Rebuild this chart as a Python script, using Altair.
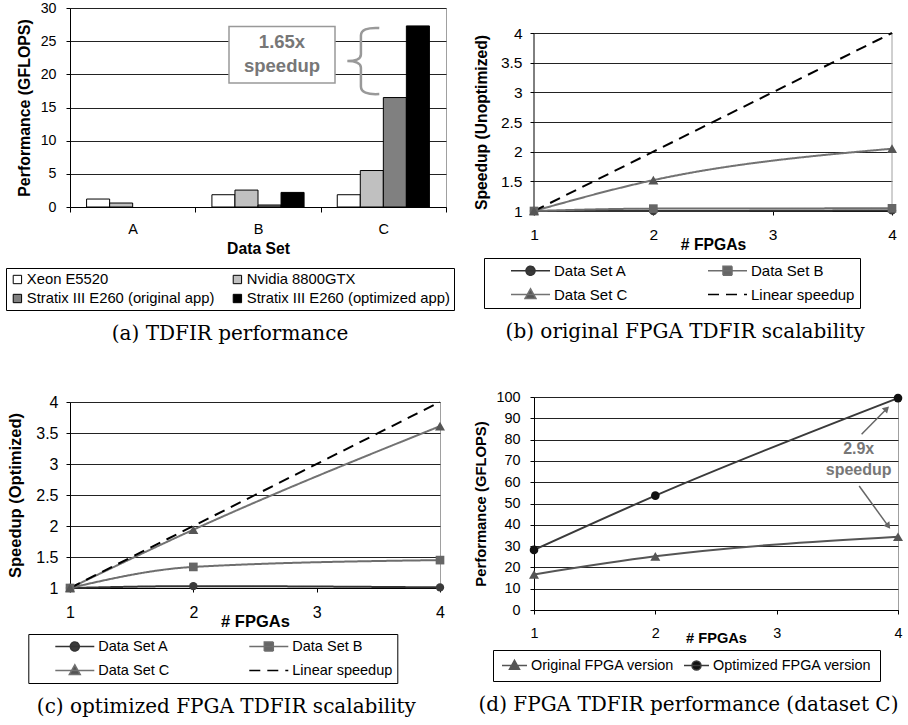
import altair as alt
import pandas as pd

SANS = "Liberation Sans"
SERIF = "DejaVu Serif"

# ---------------- chart values ----------------
data_sets = ["A", "B", "C"]
systems = ["Xeon E5520", "Nvidia 8800GTX",
           "Stratix III E260 (original app)", "Stratix III E260 (optimized app)"]
gflops_xeon = [1.2, 1.85, 1.85]
gflops_nvidia = [0.6, 2.55, 5.5]
gflops_stratix_original = [None, 0.3, 16.5]
gflops_stratix_optimized = [None, 2.2, 27.3]

fpgas = [1, 2, 4]
scal_series = ["Data Set A", "Data Set B", "Data Set C", "Linear speedup"]
unopt_set_a = [1.0, 1.0, 1.01]
unopt_set_b = [1.0, 1.04, 1.045]
unopt_set_c = [1.0, 1.52, 2.05]
linear_speedup = [1, 2, 4]
opt_set_a = [1.0, 1.03, 1.01]
opt_set_b = [1.0, 1.34, 1.45]
opt_set_c = [1.0, 1.94, 3.61]

perf_series = ["Original FPGA version", "Optimized FPGA version"]
perf_original = [16.7, 25.2, 34.4]
perf_optimized = [28.2, 53.7, 99.5]

gflops_ticks_a = [0, 5, 10, 15, 20, 25, 30]
speedup_ticks = [1, 1.5, 2, 2.5, 3, 3.5, 4]
fpga_ticks = [1, 2, 3, 4]
perf_ticks = [0, 10, 20, 30, 40, 50, 60, 70, 80, 90, 100]

captions = ["(a) TDFIR performance", "(b) original FPGA TDFIR scalability",
            "(c) optimized FPGA TDFIR scalability", "(d) FPGA TDFIR performance (dataset C)"]

# annotations (data units on the value axes)
note_a_text = ["1.65x", "speedup"]
note_a_y = [24.9, 21.2]
note_a_box_top = [27.2]
note_a_box_bottom = [18.7]
note_a_brace_y = [22.0]
note_d_text = ["2.9x", "speedup"]
note_d_x = [3.676, 3.676]
note_d_y = [75.4, 65.6]
arrow_d_x = [3.70, 3.68]
arrow_d_y = [82.5, 58.2]
arrow_d_x2 = [3.907, 3.92]
arrow_d_y2 = [94.5, 39.4]
arrow_d_angle = [45, 144]

# ---------------- styles ----------------
bar_fills = ["white", "#c0c0c0", "#808080", "black"]
scal_line_colors = ["#333333", "#6e6e6e", "#727272", "black"]
scal_marker_colors = ["#3a3a3a", "#666666", "#555555", "black"]
scal_dashes = [[1, 0], [1, 0], [1, 0], [11, 7]]
scal_shapes = ["circle", "square", "triangle-up", None]
scal_marker_sizes = [70, 75, 100, 0]
perf_line_colors = ["#555555", "#3a3a3a"]
perf_marker_colors = ["#555555", "#111111"]
perf_shapes = ["triangle-up", "circle"]
perf_marker_sizes = [100, 75]

# legend symbols: a line with the marker in the middle
LEG_BC = [
    "M-0.3,0H1M0.2,0A0.15,0.15 0 1,1 0.5,0A0.15,0.15 0 1,1 0.2,0Z",
    "M-0.3,0H1M0.2,-0.15H0.5V0.15H0.2Z",
    "M-0.3,0H1M0.35,-0.19L0.53,0.13H0.17Z",
    "M-0.3,0H1",
]
LEG_D = [
    "M-1,0H1M0,-0.42L0.4,0.3H-0.4Z",
    "M-1,0H1M-0.36,0A0.36,0.36 0 1,1 0.36,0A0.36,0.36 0 1,1 -0.36,0Z",
]
BRACE = ("M0.47,-0.97Q-0.07,-1 -0.07,-0.75L-0.07,-0.2Q-0.07,0 -0.47,0"
         "Q-0.07,0 -0.07,0.2L-0.07,0.75Q-0.07,1 0.47,0.97")

INDEP = dict(fill="independent", stroke="independent", shape="independent",
             strokeDash="independent", color="independent")


def caption(text, offset):
    return alt.TitleParams(text=text, orient="bottom", anchor="middle", frame="bounds",
                           font=SERIF, fontSize=20, fontWeight="normal", offset=offset,
                           color="black")


def long_df(names, lists):
    rows = []
    for s, vals in zip(names, lists):
        for n, v in zip(fpgas, vals):
            rows.append({"n": n, "v": v, "series": s})
    return pd.DataFrame(rows)


# ---------------- (a) ----------------
rows = []
for i, ds in enumerate(data_sets):
    for s, vals in zip(systems, [gflops_xeon, gflops_nvidia,
                                 gflops_stratix_original, gflops_stratix_optimized]):
        rows.append({"ds": ds, "sys": s, "v": vals[i]})
df_a = pd.DataFrame(rows)

ya_scale = alt.Scale(domain=[0, 30], nice=False, zero=True)
ya_axis = alt.Axis(values=gflops_ticks_a, title="Performance (GFLOPS)", grid=True,
                   tickSize=4, labelPadding=10, titlePadding=8, labelFontSize=14.2,
                   titleFontSize=15.9)
legend_a = alt.Legend(title=None, orient="none", legendX=-64, legendY=260, columns=2,
                      direction="horizontal", strokeColor="black", padding=4,
                      columnPadding=15, rowPadding=3, labelFont=SANS, labelFontSize=14.8,
                      labelColor="black", labelOffset=2, labelLimit=500, symbolType="square",
                      symbolSize=70, symbolStrokeColor="black", symbolStrokeWidth=1,
                      clipHeight=15)
bars = alt.Chart(df_a).mark_bar(stroke="black", strokeWidth=1).encode(
    x=alt.X("ds:N", sort=data_sets, scale=alt.Scale(paddingInner=0, paddingOuter=0),
            axis=alt.Axis(title="Data Set", labelAngle=0, tickBand="extent", tickSize=5,
                          labelPadding=10, titlePadding=6, labelFontSize=14.5,
                          titleFontSize=15.7)),
    xOffset=alt.XOffset("sys:N", sort=systems,
                        scale=alt.Scale(domain=systems, paddingInner=0, paddingOuter=0.72)),
    y=alt.Y("v:Q", scale=ya_scale, axis=ya_axis),
    fill=alt.Fill("sys:N", scale=alt.Scale(domain=systems, range=bar_fills), legend=legend_a),
)
box_a = alt.Chart(pd.DataFrame({"v": note_a_box_top, "v2": note_a_box_bottom})).mark_rect(
    fill="white", stroke="#999999", strokeWidth=1.5
).encode(x=alt.value(159), x2=alt.value(265),
         y=alt.Y("v:Q", scale=ya_scale, axis=ya_axis), y2="v2:Q")
text_a = alt.Chart(pd.DataFrame({"t": note_a_text, "v": note_a_y})).mark_text(
    font=SANS, fontSize=18.5, fontWeight="bold", color="#777777"
).encode(x=alt.value(212), y=alt.Y("v:Q", scale=ya_scale, axis=ya_axis), text="t:N")
brace_a = alt.Chart(pd.DataFrame({"v": note_a_brace_y})).mark_point(
    shape=BRACE, size=4624, filled=False, stroke="#999999", strokeWidth=2.5, opacity=1
).encode(x=alt.value(293.3), y=alt.Y("v:Q", scale=ya_scale, axis=ya_axis))

panel_a = alt.layer(bars, box_a, text_a, brace_a).properties(
    width=376, height=199, title=caption(captions[0], 13))


# ---------------- (b) and (c) ----------------
def scal_panel(lists, ytitle, cap, cap_off, width, height, ytop, fs, tfs, lfs, leg_x, leg_y,
               x_title_pad, y_title_pad, y_label_pad, title_y=None, spines=False):
    df = long_df(scal_series, lists)
    xs = alt.Scale(domain=[1, 4], nice=False, zero=False)
    ys = alt.Scale(domain=[1, ytop], nice=False, zero=False)
    xa = alt.Axis(values=fpga_ticks, format="d", title="# FPGAs", grid=False,
                  tickSize=4, labelPadding=12, labelFlush=False,
                  labelFontSize=fs, titleFontSize=tfs, titlePadding=x_title_pad)
    yaxis_kw = dict(values=speedup_ticks, format="~g", title=ytitle, grid=True, tickSize=4,
                    labelPadding=y_label_pad, titlePadding=y_title_pad, labelFontSize=fs,
                    titleFontSize=tfs, domain=not spines)
    if title_y is not None:
        yaxis_kw["titleY"] = title_y
    ya = alt.Axis(**yaxis_kw)
    X = alt.X("n:Q", scale=xs, axis=xa)
    Y = alt.Y("v:Q", scale=ys, axis=ya)
    layers = []
    if spines:
        sp = pd.DataFrame({"n": [1], "v": [1], "v2": [4]})
        layers.append(alt.Chart(sp).mark_rule(strokeWidth=1, color="black").encode(
            x=X, y=Y, y2="v2:Q"))
        sp2 = pd.DataFrame({"n": [4], "v": [1], "v2": [4]})
        layers.append(alt.Chart(sp2).mark_rule(strokeWidth=1, color="#a0a0a0").encode(
            x=X, y=Y, y2="v2:Q"))
    for s, col, dash in zip(scal_series, scal_line_colors, scal_dashes):
        layers.append(alt.Chart(df).transform_filter(alt.datum.series == s).mark_line(
            strokeWidth=2, interpolate="monotone", color=col, strokeDash=dash
        ).encode(x=X, y=Y))
    for s, shp, col, sz in zip(scal_series, scal_shapes, scal_marker_colors,
                               scal_marker_sizes):
        if shp is None:
            continue
        layers.append(alt.Chart(df).transform_filter(alt.datum.series == s).mark_point(
            shape=shp, filled=True, size=sz, color=col, opacity=1
        ).encode(x=X, y=Y))
    leg = alt.Legend(title=None, orient="none", legendX=leg_x, legendY=leg_y, columns=2,
                     direction="horizontal", strokeColor="black", padding=5,
                     columnPadding=58, rowPadding=8, labelFont=SANS, labelFontSize=lfs,
                     labelColor="black", labelOffset=3, labelLimit=500, symbolSize=3600,
                     symbolStrokeWidth=1.5, symbolOpacity=1, clipHeight=15)
    layers.append(alt.Chart(df).mark_point(filled=True, opacity=0).encode(
        x=X, y=Y,
        stroke=alt.Stroke("series:N", scale=alt.Scale(domain=scal_series,
                                                      range=scal_line_colors), legend=leg),
        fill=alt.Fill("series:N", scale=alt.Scale(domain=scal_series,
                                                  range=scal_marker_colors), legend=leg),
        shape=alt.Shape("series:N", scale=alt.Scale(domain=scal_series, range=LEG_BC),
                        legend=leg),
        strokeDash=alt.StrokeDash("series:N", scale=alt.Scale(domain=scal_series,
                                                              range=scal_dashes), legend=leg),
    ))
    props = dict(width=width, height=height, title=caption(cap, cap_off))
    if spines:
        props["view"] = alt.ViewBackground(stroke="transparent")
    return alt.layer(*layers).properties(**props)


panel_b = scal_panel([unopt_set_a, unopt_set_b, unopt_set_c, linear_speedup],
                     "Speedup (Unoptimized)", captions[1], 13, 358, 203, 4 + 25 / (178 / 3),
                     15.5, 15.7, 15, -50, 250, -5, 11, 8, title_y=114, spines=True)
panel_c = scal_panel([opt_set_a, opt_set_b, opt_set_c, linear_speedup],
                     "Speedup (Optimized)", captions[2], 13, 370, 186, 4,
                     16, 16.5, 14.5, -41.7, 232, -7, 12, 8)

# ---------------- (d) ----------------
df_d = long_df(perf_series, [perf_original, perf_optimized])
xs_d = alt.Scale(domain=[1, 4], nice=False, zero=False)
ys_d = alt.Scale(domain=[0, 100], nice=False, zero=True)
xa_d = alt.Axis(values=fpga_ticks, format="d", title="# FPGAs", grid=False,
                tickSize=4, labelPadding=12, labelFlush=False, labelFontSize=14.4,
                titleFontSize=14.6, titlePadding=-9)
ya_d = alt.Axis(values=perf_ticks, title="Performance (GFLOPS)", grid=True,
                tickSize=4, labelPadding=10, titlePadding=7, labelFontSize=14.4,
                titleFontSize=14.8)
XD = alt.X("n:Q", scale=xs_d, axis=xa_d)
YD = alt.Y("v:Q", scale=ys_d, axis=ya_d)
layers_d = []
for s, col in zip(perf_series, perf_line_colors):
    layers_d.append(alt.Chart(df_d).transform_filter(alt.datum.series == s).mark_line(
        strokeWidth=2, interpolate="monotone", color=col).encode(x=XD, y=YD))
for s, shp, col, sz in zip(perf_series, perf_shapes, perf_marker_colors, perf_marker_sizes):
    layers_d.append(alt.Chart(df_d).transform_filter(alt.datum.series == s).mark_point(
        shape=shp, filled=True, size=sz, color=col, opacity=1
    ).encode(x=XD, y=YD))
leg_d = alt.Legend(title=None, orient="none", legendX=-41, legendY=253, columns=2,
                   direction="horizontal", strokeColor="black", padding=8,
                   columnPadding=8, rowPadding=0, labelFont=SANS, labelFontSize=14.4,
                   labelColor="black", labelOffset=3, labelLimit=500, symbolSize=625,
                   symbolStrokeWidth=1.5, symbolOpacity=1, clipHeight=15)
layers_d.append(alt.Chart(df_d).mark_point(filled=True, opacity=0).encode(
    x=XD, y=YD,
    stroke=alt.Stroke("series:N", scale=alt.Scale(domain=perf_series, range=perf_line_colors),
                      legend=leg_d),
    fill=alt.Fill("series:N", scale=alt.Scale(domain=perf_series, range=perf_marker_colors),
                  legend=leg_d),
    shape=alt.Shape("series:N", scale=alt.Scale(domain=perf_series, range=LEG_D),
                    legend=leg_d),
))
df_arrow = pd.DataFrame({"n": arrow_d_x, "v": arrow_d_y, "n2": arrow_d_x2,
                         "v2": arrow_d_y2, "angle": arrow_d_angle})
layers_d.append(alt.Chart(df_arrow).mark_rule(color="#666666", strokeWidth=1.5).encode(
    x=XD, y=YD, x2="n2:Q", y2="v2:Q"))
layers_d.append(alt.Chart(df_arrow).mark_point(
    shape="triangle-up", filled=True, size=55, color="#666666", opacity=1
).encode(x=alt.X("n2:Q", scale=xs_d, axis=xa_d), y=alt.Y("v2:Q", scale=ys_d, axis=ya_d),
         angle=alt.Angle("angle:Q", scale=None)))
layers_d.append(alt.Chart(pd.DataFrame({"t": note_d_text, "n": note_d_x, "v": note_d_y}))
                .mark_text(font=SANS, fontSize=16, fontWeight="bold", color="#777777")
                .encode(x=XD, y=YD, text="t:N"))
panel_d = alt.layer(*layers_d).properties(width=364, height=213,
                                          title=caption(captions[3], 13))

# ---------------- layout ----------------
col_left = alt.vconcat(panel_a, panel_c, spacing=49).resolve_scale(**INDEP).resolve_legend(**INDEP)
col_right = alt.vconcat(panel_b, panel_d, spacing=46).resolve_scale(**INDEP).resolve_legend(**INDEP)
chart = alt.hconcat(col_left, col_right, spacing=17).resolve_scale(**INDEP).resolve_legend(
    **INDEP
).properties(
    padding={"left": 5, "top": 0, "right": 0, "bottom": 0}
).configure_view(
    stroke="#a0a0a0", strokeWidth=1
).configure_axis(
    labelFont=SANS, titleFont=SANS, titleFontWeight="bold", labelColor="black",
    titleColor="black", domainColor="black", tickColor="black", gridColor="#222222",
    domainWidth=1, tickWidth=1, gridWidth=1
).configure_legend(labelFont=SANS, labelColor="black")

chart.save("out.html", embed_options={"renderer": "svg", "actions": False})
